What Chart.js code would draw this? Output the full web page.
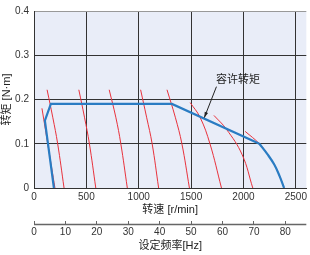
<!DOCTYPE html>
<html>
<head>
<meta charset="utf-8">
<script src="https://cdn.jsdelivr.net/npm/chart.js@4/dist/chart.umd.min.js"></script>
<style>
  html, body { margin: 0; padding: 0; background: #fff; }
  #wrap { width: 310px; height: 255px; }
</style>
</head>
<body>
<div id="wrap"><canvas id="chart" width="310" height="255"></canvas></div>
<script>
// tick labels
const rpmTicks = [0, 500, 1000, 1500, 2000, 2500];
const hzTicks = [0, 10, 20, 30, 40, 50, 60, 70, 80];
const torqueTicks = [0, 0.1, 0.2, 0.3, 0.4];
const rpmMax = 2600;
const rpmPerHz = 30;

// allowable torque (blue)
const allowLine = [[190, 0], [104, 0.152], [161, 0.19], [1317, 0.19], [2152, 0.1]];
const allowCurve = [[2152, 0.1], [2230, 0.076], [2294, 0.053], [2345, 0.027], [2388, 0]];

// speed-torque curves per set frequency (red)
const curve07 = [[76, 0.18], [138, 0.09], [200, 0]];
const curve10 = [[125, 0.222], [179, 0.16], [226, 0.1], [287, 0]];
const curve20 = [[428, 0.222], [482, 0.16], [529, 0.1], [590, 0]];
const curve30 = [[718, 0.222], [781, 0.16], [829, 0.1], [891, 0]];
const curve40 = [[1018, 0.222], [1075, 0.16], [1128, 0.1], [1190, 0]];
const curve50 = [[1270, 0.222], [1349, 0.16], [1412, 0.1], [1484, 0]];
const curve60 = [[1491, 0.193], [1585, 0.16], [1680, 0.1], [1790, 0]];
const curve70 = [[1718, 0.164], [1837, 0.133], [1988, 0.075], [2089, 0]];
const curve80 = [[2016, 0.128], [2152, 0.1], [2230, 0.076], [2294, 0.053], [2345, 0.027], [2388, 0]];

// annotation
const noteText = "容许转矩";
const notePos = [1948, 0.246];
const arrowFrom = [1742, 0.229];
const arrowTo = [1626, 0.159];

const cjk = "'Noto Sans CJK SC', 'Liberation Sans', sans-serif";
const mixed = "'Liberation Sans', 'Noto Sans CJK SC', sans-serif";
const latin = "'Liberation Sans', Arial, sans-serif";
const toPts = (arr) => arr.map(([x, y]) => ({ x, y }));

const redCurves = [curve07, curve10, curve20, curve30, curve40, curve50, curve60, curve70, curve80];

const datasets = [
    {
        data: toPts(allowLine),
        borderColor: "#2a7cc3",
        borderWidth: 2.2,
        tension: 0
    },
    {
        data: toPts(allowCurve),
        borderColor: "#2a7cc3",
        borderWidth: 2.2,
        tension: 0.4
    }
].concat(redCurves.map((c) => ({
    data: toPts(c),
    borderColor: "#e8323c",
    borderWidth: 1,
    tension: 0.4
})));

const decor = {
    id: "decor",
    beforeDraw(chart) {
        const { ctx, chartArea: a } = chart;
        ctx.save();
        ctx.fillStyle = "#e9edf8";
        ctx.fillRect(a.left, a.top, a.right - a.left, a.bottom - a.top);
        ctx.restore();
    },
    afterDraw(chart) {
        const { ctx } = chart;
        const sx = chart.scales.x;
        const sy = chart.scales.y;
        const s2 = chart.scales.x2;
        ctx.save();

        // frequency axis line (ticks point up from it)
        ctx.strokeStyle = "#666";
        ctx.lineWidth = 1.5;
        ctx.beginPath();
        ctx.moveTo(s2.left, s2.top + 3.5);
        ctx.lineTo(s2.right, s2.top + 3.5);
        ctx.stroke();

        // arrow
        const x1 = sx.getPixelForValue(arrowFrom[0]);
        const y1 = sy.getPixelForValue(arrowFrom[1]);
        const x2 = sx.getPixelForValue(arrowTo[0]);
        const y2 = sy.getPixelForValue(arrowTo[1]);
        ctx.strokeStyle = "#222";
        ctx.fillStyle = "#222";
        ctx.lineWidth = 1;
        ctx.beginPath();
        ctx.moveTo(x1, y1);
        ctx.lineTo(x2, y2);
        ctx.stroke();
        const ang = Math.atan2(y2 - y1, x2 - x1);
        ctx.beginPath();
        ctx.moveTo(x2, y2);
        ctx.lineTo(x2 - 6 * Math.cos(ang - 0.3), y2 - 6 * Math.sin(ang - 0.3));
        ctx.lineTo(x2 - 6 * Math.cos(ang + 0.3), y2 - 6 * Math.sin(ang + 0.3));
        ctx.closePath();
        ctx.fill();

        // label
        ctx.font = "11px " + cjk;
        ctx.fillStyle = "#222";
        ctx.textAlign = "center";
        ctx.textBaseline = "middle";
        ctx.fillText(noteText, sx.getPixelForValue(notePos[0]), sy.getPixelForValue(notePos[1]));
        ctx.restore();
    }
};

const tickFont = { family: latin, size: 10 };
const titleFont = { family: mixed, size: 11 };

new Chart(document.getElementById("chart"), {
    type: "line",
    data: { datasets },
    options: {
        responsive: false,
        animation: false,
        devicePixelRatio: 1,
        parsing: false,
        layout: { padding: { top: 4, right: 1, left: 0, bottom: 0 } },
        plugins: { legend: { display: false }, tooltip: { enabled: false } },
        elements: { point: { radius: 0 } },
        scales: {
            x: {
                type: "linear",
                position: "bottom",
                weight: 0,
                min: 0,
                max: rpmMax,
                afterBuildTicks: (s) => { s.ticks = rpmTicks.map((v) => ({ value: v })); },
                afterFit: (s) => { s.height = 33; },
                grid: { color: "#333", lineWidth: 1, drawTicks: false },
                border: { color: "#333", width: 1 },
                ticks: { padding: 3, font: tickFont, color: "#333", maxRotation: 0, autoSkip: false, callback: (v) => String(v) },
                title: { display: true, text: "转速 [r/min]", font: titleFont, color: "#222", padding: { top: 0, bottom: 4 } }
            },
            x2: {
                type: "linear",
                position: "bottom",
                weight: 1,
                min: 0,
                max: rpmMax / rpmPerHz,
                afterBuildTicks: (s) => { s.ticks = hzTicks.map((v) => ({ value: v })); },
                afterFit: (s) => { s.height = 34; },
                grid: { drawOnChartArea: false, drawTicks: true, tickLength: 3, color: "#666" },
                border: { display: false },
                ticks: { padding: 2, font: tickFont, color: "#333", maxRotation: 0, autoSkip: false, callback: (v) => String(v) },
                title: { display: true, text: "设定频率[Hz]", font: titleFont, color: "#222", padding: { top: 0, bottom: 2 } }
            },
            y: {
                type: "linear",
                min: 0,
                max: 0.4,
                afterBuildTicks: (s) => { s.ticks = torqueTicks.map((v) => ({ value: v })); },
                afterFit: (s) => { s.width = 34; },
                grid: {
                    color: (ctx) => (ctx.tick && ctx.tick.value === 0.4 ? "#999" : "#333"),
                    lineWidth: 1,
                    drawTicks: false
                },
                border: { color: "#333", width: 1 },
                ticks: {
                    padding: 5,
                    font: tickFont,
                    color: "#333",
                    callback: (v) => (v === 0 ? "0" : v.toFixed(1))
                },
                title: { display: true, text: "转矩 [N·m]", font: titleFont, color: "#222", padding: { top: 0, bottom: 0 } }
            }
        }
    },
    plugins: [decor]
});
</script>
</body>
</html>
